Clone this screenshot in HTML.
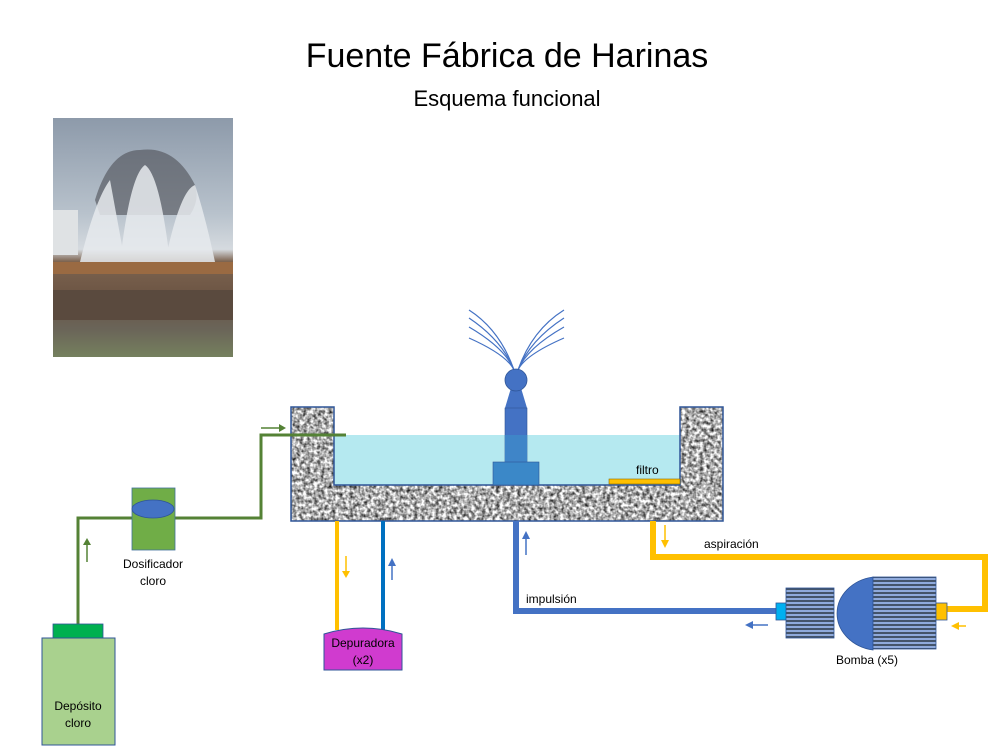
<!DOCTYPE html>
<html><head><meta charset="utf-8"><style>
html,body{margin:0;padding:0;background:#fff;width:1008px;height:754px;overflow:hidden}
svg text{font-family:"Liberation Sans",sans-serif;fill:#000}
</style></head><body>
<svg width="1008" height="754" viewBox="0 0 1008 754" xmlns="http://www.w3.org/2000/svg">
<defs>
<filter id="gran" x="0" y="0" width="100%" height="100%" color-interpolation-filters="sRGB">
<feTurbulence type="fractalNoise" baseFrequency="0.28" numOctaves="2" seed="3" result="n"/>
<feColorMatrix in="n" type="matrix" values="1.6 0 0 0 -0.12  1.6 0 0 0 -0.12  1.6 0 0 0 -0.12  0 0 0 0 1" result="g"/>
<feComposite in="g" in2="SourceGraphic" operator="in"/>
</filter>
<pattern id="str" width="8" height="4" patternUnits="userSpaceOnUse">
<rect width="8" height="4" fill="#8faadc"/><rect width="8" height="2" fill="#44546a"/>
</pattern>
<linearGradient id="sky" x1="0" y1="0" x2="0" y2="1">
<stop offset="0" stop-color="#8d9aaa"/><stop offset="0.4" stop-color="#b8c2cc"/><stop offset="0.55" stop-color="#d5dadf"/><stop offset="0.6" stop-color="#7d6450"/><stop offset="0.75" stop-color="#6b5443"/><stop offset="0.88" stop-color="#6a6458"/><stop offset="1" stop-color="#75805e"/>
</linearGradient>
</defs>
<text x="507" y="67" font-size="34" text-anchor="middle">Fuente Fábrica de Harinas</text>
<text x="507" y="106" font-size="22" text-anchor="middle">Esquema funcional</text>
<!-- photo -->
<rect x="53" y="118" width="180" height="239" fill="url(#sky)"/>
<path d="M95 200 Q110 150 140 150 Q175 145 195 185 Q200 200 190 215 L100 215 Z" fill="#4d4f55" opacity="0.6"/>
<path d="M80 262 Q95 200 110 180 L125 262 Z M120 262 Q130 175 145 165 Q160 175 170 262 Z M165 262 Q180 190 195 185 Q205 215 215 262 Z" fill="#e6eaed" opacity="0.85"/>
<rect x="53" y="210" width="25" height="45" fill="#dfe2e4"/>
<rect x="53" y="262" width="180" height="12" fill="#9a6a42"/>
<rect x="53" y="290" width="180" height="30" fill="#5a4a3e"/>
<!-- basin -->
<rect x="334" y="435" width="346" height="50" fill="#b5e9f0"/>
<path d="M291 407 H334 V485 H680 V407 H723 V521 H291 Z" fill="#fff" filter="url(#gran)"/>
<path d="M291 407 H334 V485 H680 V407 H723 V521 H291 Z" fill="none" stroke="#2f5597" stroke-width="1.5"/>
<rect x="609" y="479" width="71" height="5" fill="#ffc000" stroke="#8a6a00" stroke-width="0.6"/>
<text x="636" y="474" font-size="12">filtro</text>
<!-- fountain -->
<g fill="none" stroke="#4472c4" stroke-width="1.2">
<path d="M514 370 Q500 330 469 310"/><path d="M514 370 Q502 340 469 318"/><path d="M514 370 Q505 348 469 327"/><path d="M514 370 Q507 355 469 338"/>
<path d="M518 370 Q532 330 564 310"/><path d="M518 370 Q530 340 564 318"/><path d="M518 370 Q527 348 564 327"/><path d="M518 370 Q525 355 564 338"/>
</g>
<path d="M505 408 L511 388 H521 L527 408 Z" fill="#4472c4"/>
<circle cx="516" cy="380" r="11" fill="#4472c4" stroke="#2f5597" stroke-width="0.8"/>
<rect x="505" y="408" width="22" height="55" fill="#4472c4" stroke="#2f5597" stroke-width="0.6"/>
<rect x="505" y="435" width="22" height="27" fill="#3f85c8"/>
<rect x="493" y="462" width="46" height="23" fill="#3b88c8" stroke="#2f5597" stroke-width="0.6"/>
<!-- green pipe -->
<polyline points="78,624 78,518 133,518" fill="none" stroke="#548235" stroke-width="3"/>
<polyline points="174,518 261,518 261,435 346,435" fill="none" stroke="#548235" stroke-width="3"/>
<line x1="87" y1="562" x2="87" y2="544" stroke="#548235" stroke-width="1.5"/><path d="M83 545 L87 538 L91 545 Z" fill="#548235"/>
<line x1="261" y1="428" x2="280" y2="428" stroke="#548235" stroke-width="1.5"/><path d="M279 424 L286 428 L279 432 Z" fill="#548235"/>
<rect x="132" y="488" width="43" height="62" fill="#70ad47" stroke="#41719c" stroke-width="0.8"/>
<ellipse cx="153" cy="509" rx="21" ry="9" fill="#4472c4" stroke="#2f5597" stroke-width="0.8"/>
<text x="153" y="568" font-size="12" text-anchor="middle">Dosificador</text>
<text x="153" y="585" font-size="12" text-anchor="middle">cloro</text>
<rect x="53" y="624" width="50" height="14" fill="#00b050" stroke="#2f5597" stroke-width="0.8"/>
<rect x="42" y="638" width="73" height="107" fill="#a9d18e" stroke="#2f5597" stroke-width="1"/>
<text x="78" y="710" font-size="12" text-anchor="middle">Depósito</text>
<text x="78" y="727" font-size="12" text-anchor="middle">cloro</text>
<!-- depuradora -->
<line x1="337" y1="521" x2="337" y2="630" stroke="#ffc000" stroke-width="4"/>
<line x1="383" y1="521" x2="383" y2="630" stroke="#0070c0" stroke-width="4"/>
<line x1="346" y1="556" x2="346" y2="572" stroke="#ffc000" stroke-width="1.5"/><path d="M342 571 L346 578 L350 571 Z" fill="#ffc000"/>
<line x1="392" y1="580" x2="392" y2="565" stroke="#4472c4" stroke-width="1.5"/><path d="M388 566 L392 558 L396 566 Z" fill="#4472c4"/>
<path d="M324 670 V634 Q363 622 402 634 V670 Z" fill="#d03bcf" stroke="#2f5597" stroke-width="1"/>
<text x="363" y="647" font-size="12" text-anchor="middle">Depuradora</text>
<text x="363" y="664" font-size="12" text-anchor="middle">(x2)</text>
<!-- impulsion -->
<polyline points="516,521 516,611 777,611" fill="none" stroke="#4472c4" stroke-width="6"/>
<line x1="526" y1="555" x2="526" y2="538" stroke="#4472c4" stroke-width="1.5"/><path d="M522 539 L526 531 L530 539 Z" fill="#4472c4"/>
<text x="526" y="603" font-size="12">impulsión</text>
<line x1="768" y1="625" x2="752" y2="625" stroke="#4472c4" stroke-width="1.5"/><path d="M753 621 L745 625 L753 629 Z" fill="#4472c4"/>
<!-- aspiracion -->
<polyline points="653,521 653,557 985,557 985,609 946,609" fill="none" stroke="#ffc000" stroke-width="6"/>
<line x1="665" y1="525" x2="665" y2="541" stroke="#ffc000" stroke-width="1.5"/><path d="M661 540 L665 548 L669 540 Z" fill="#ffc000"/>
<text x="704" y="548" font-size="12">aspiración</text>
<line x1="966" y1="626" x2="958" y2="626" stroke="#ffc000" stroke-width="1.5"/><path d="M959 622 L951 626 L959 630 Z" fill="#ffc000"/>
<!-- pump -->
<rect x="776" y="603" width="11" height="17" fill="#00b0f0" stroke="#2f5597" stroke-width="0.8"/>
<rect x="786" y="588" width="48" height="50" fill="url(#str)" stroke="#2f5597" stroke-width="0.8"/>
<path d="M873 577 A43 37 0 0 0 873 650 Z" fill="#4472c4" stroke="#2f5597" stroke-width="0.8"/>
<rect x="873" y="577" width="63" height="72" fill="url(#str)" stroke="#2f5597" stroke-width="0.8"/>
<rect x="936" y="603" width="11" height="17" fill="#ffc000" stroke="#2f5597" stroke-width="0.8"/>
<text x="867" y="664" font-size="12" text-anchor="middle">Bomba (x5)</text>
</svg>
</body></html>
